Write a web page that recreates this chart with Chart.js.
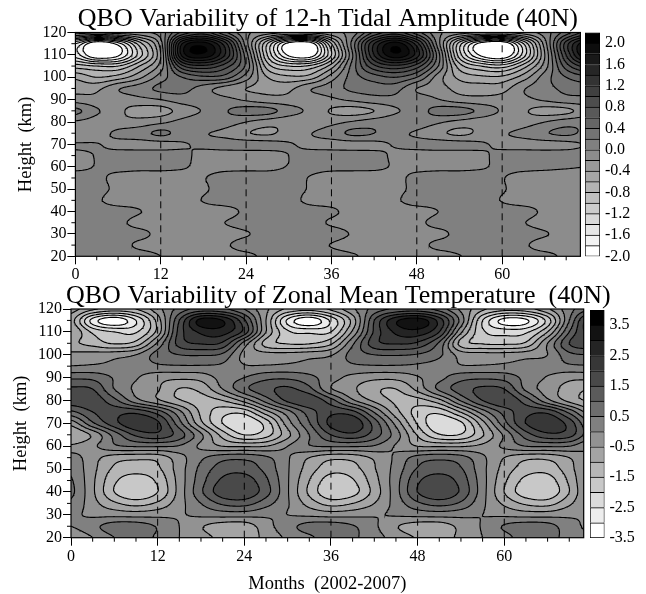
<!DOCTYPE html>
<html><head><meta charset="utf-8">
<style>html,body{margin:0;padding:0;background:#fff;width:646px;height:594px;overflow:hidden}canvas{position:absolute}</style>
<script src="https://cdn.jsdelivr.net/npm/chart.js@4"></script>
</head><body>
<canvas id="c1" width="646" height="290" style="left:0;top:0"></canvas>
<canvas id="c2" width="646" height="324" style="left:0;top:270px"></canvas>
<canvas id="b1" width="61" height="248" style="left:585px;top:20px"></canvas>
<canvas id="b2" width="56" height="252" style="left:590px;top:298px"></canvas>
<script>
const months=[0,3,6,9,12,15,18,21,24,27,30,33,36,39,42,45,48,51,54,57,60,63,66,69,72];
const heights=[120,115,110,105,100,95,90,85,80,75,70,65,60,55,50,45,40,35,30,25,20];
const monthTicks=[0,12,24,36,48,60];
const minorMonths=[3,6,9,15,18,21,27,30,33,39,42,45,51,54,57,63,66,69];
const heightTicks=[20,30,40,50,60,70,80,90,100,110,120];
const minorHeights=[25,35,45,55,65,75,85,95,105,115];
const dashMonths=[12,24,36,48,60];
const titleAmp="QBO Variability of 12-h Tidal Amplitude (40N)";
const titleTemp="QBO Variability of Zonal Mean Temperature  (40N)";
const ampBarTicks=[-2,-1.6,-1.2,-0.8,-0.4,0,0.4,0.8,1.2,1.6,2];
const tempBarTicks=[-3.5,-2.5,-1.5,-0.5,0.5,1.5,2.5,3.5];
// 12-h tidal amplitude, one row per height, one value per entry of months
const a120=[-.1,-.15,-.1,-.05,.1,.65,.9,.45,.05,-.1,-.2,-.15,-.05,.1,.65,.9,.5,.05,-.1,-.2,-.2,-.1,.1,.5,.9];
const a115=[-1.4,-2.05,-1.7,-.9,-.1,1.6,1.9,1.3,.1,-1,-1.9,-1.95,-.8,.3,1.4,1.9,1.3,.1,-1.1,-1.9,-2.05,-1.2,-.1,1.1,1.8];
const a110=[-1.5,-2.05,-1.85,-1.1,-.2,1.65,1.95,1.4,.3,-1,-1.85,-1.95,-1,.2,1.4,1.95,1.5,.3,-1.1,-1.85,-2.05,-1.3,-.2,1,1.85];
const a105=[-.9,-1,-1,-.6,-.1,.95,1.15,.9,.35,-.7,-1,-.95,-.5,.3,.95,1.15,.9,.2,-.7,-1,-1.1,-.7,-.1,.7,1.1];
const a100=[-.45,-.6,-.5,-.25,.1,.4,.55,.5,.1,-.4,-.55,-.5,-.1,.3,.5,.6,.4,-.1,-.45,-.55,-.55,-.3,.1,.4,.55];
const a95=[-.28,-.25,-.02,.1,.25,.28,.1,-.08,-.2,-.26,-.25,-.02,.1,.25,.3,.28,0,-.1,-.28,-.3,-.28,-.02,.12,.26,.3];
const a90=[-.1,-.15,-.13,-.06,0,.1,.12,.06,-.03,-.12,-.14,-.12,-.04,.04,.12,.14,.1,.01,-.1,-.14,-.12,-.05,.03,.12,.14];
const a85=[.25,.03,-.15,-.28,-.28,-.12,.02,.18,.28,.27,.1,-.05,-.22,-.28,-.2,-.03,.1,.27,.28,.15,-.03,-.17,-.28,-.25,-.1];
const a80=[-.03,-.1,-.14,-.12,-.04,.06,.14,.1,0,-.1,-.15,-.14,-.06,.02,.1,.15,.13,.03,-.06,-.13,-.15,-.1,0,.1,.14];
const a75=[-.2,-.1,.05,.12,.24,.12,.02,-.05,-.18,-.23,-.12,-.01,.1,.24,.2,.06,-.03,-.15,-.24,-.15,-.03,.06,.18,.24,.15];
const a70=[.02,.01,-.06,-.08,-.07,-.02,.04,.08,.09,.08,.02,-.05,-.08,-.08,-.06,.02,.07,.09,.08,.03,-.05,-.08,-.08,-.06,.01];
const a65=[-.05,.01,.08,.1,.1,.05,-.06,-.09,-.1,-.09,0,.07,.1,.1,.07,-.04,-.09,-.1,-.1,-.04,.06,.1,.1,.1,.08];
const a60=[-.04,.01,.05,.05,.05,.02,-.05,-.05,-.05,-.05,.01,.05,.05,.05,.04,-.02,-.05,-.05,-.05,-.02,.04,.05,.04,.02,0];
const a55=[.08,.04,-.05,-.09,-.09,-.08,-.01,.07,.09,.09,.07,-.01,-.08,-.09,-.09,-.05,.05,.09,.09,.08,.01,-.07,-.09,-.09,-.09];
const a50=[.09,.07,-.05,-.09,-.09,-.09,-.03,.09,.09,.09,.09,-.02,-.09,-.09,-.09,-.06,.06,.09,.09,.09,.02,-.09,-.09,-.09,-.09];
const a45=[.09,.03,-.09,-.09,-.09,-.09,.01,.09,.09,.09,.07,-.05,-.09,-.09,-.09,-.03,.09,.09,.09,.09,-.01,-.09,-.09,-.09,-.09];
const a40=[.09,.09,.09,.01,-.09,-.09,-.09,-.08,.04,.09,.09,.09,.04,-.08,-.09,-.09,-.09,0,.09,.09,.09,.08,-.04,-.09,-.09];
const a35=[.09,.09,.05,-.07,-.09,-.09,-.09,0,.09,.09,.09,.09,-.03,-.09,-.09,-.09,-.05,.07,.09,.09,.09,.01,-.09,-.09,-.09];
const a30=[.09,.09,.09,.06,-.06,-.09,-.09,-.09,-.02,.09,.09,.09,.09,-.02,-.09,-.09,-.09,-.06,.06,.09,.09,.09,.02,-.09,-.09];
const a25=[.09,.09,.08,-.04,-.09,-.09,-.09,-.03,.09,.09,.09,.09,-.01,-.09,-.09,-.09,-.07,.05,.09,.09,.09,.03,-.09,-.09,-.09];
const a20=[.09,.09,.09,.09,0,-.09,-.09,-.09,-.06,.06,.09,.09,.09,.03,-.09,-.09,-.09,-.09,-.01,.09,.09,.09,.07,-.05,-.09];
// zonal mean temperature
const t120=[-.3,-.9,-1.2,-1,-.2,.7,1.2,1.1,.5,-.4,-1.1,-1.3,-.9,-.1,.7,1.1,1.2,.8,-.1,-.9,-1.3,-1.2,-.6,.3,1];
const t115=[-.8,-2.7,-3.4,-2.5,-.8,1.5,3.2,3,1.6,-.5,-2.6,-3.4,-2.4,-.8,1.5,2.9,3.3,2.3,.3,-2,-3.2,-3.1,-1.8,.5,2.4];
const t110=[-.5,-1.6,-2,-2.05,-.8,1.7,2.6,2.7,1.8,-.5,-1.9,-2.1,-2,-.4,1.6,2.6,2.8,2,-.4,-1.9,-2.2,-2.1,-1,1,2.3];
const t105=[-.9,-1.2,-1.55,-1.3,.1,1.7,2.05,1.9,.3,-1.2,-1.55,-1.55,-1.1,.4,1.8,2.05,1.9,.9,-1.2,-1.55,-1.6,-1.4,0,1.5,1.95];
const t100=[-.35,-.3,-.2,0,.7,1,1.05,.9,-.15,-.3,-.3,-.2,-.05,.7,1,1.05,.95,.6,-.2,-.3,-.3,-.2,0,.85,1];
const t95=[.02,.07,.12,.2,.4,.45,.45,.4,.05,.05,.1,.15,.2,.4,.45,.45,.4,.3,.05,.05,.1,.15,.25,.4,.45];
const t90=[.9,.85,.45,.05,-.3,-.38,-.3,.2,.5,.85,.9,.65,.2,-.15,-.35,-.35,-.05,.35,.8,.9,.8,.35,-.05,-.35,-.35];
const t85=[1.6,1.5,.5,-.1,-.45,-1.02,-.85,0,.85,1.35,1.6,1.15,.05,-.4,-.9,-1,-.35,.6,1.25,1.6,1.5,.4,-.25,-.7,-1.05];
const t80=[1.8,1.8,1.15,.2,-.4,-.95,-1.2,-1,-.3,.7,1.6,1.9,1.2,.1,-.6,-1.1,-1.2,-.65,.55,1.5,1.9,1.25,.15,-.65,-1.1];
const t75=[.9,1.5,1.8,1.85,1.25,.15,-1.1,-1.8,-1.8,-.7,.3,1.25,1.85,1.65,.45,-.8,-1.7,-1.85,-.95,.25,1.2,1.8,1.85,.85,-.3];
const t70=[-.3,.9,1.8,2.4,2.1,.7,-.85,-2,-2.45,-1.8,-.25,.95,2.15,2.4,1.3,-.15,-1.55,-2.4,-2.1,-.7,.8,2,2.4,1.8,.45];
const t65=[-1,-.4,.7,1.6,1.85,1.25,.1,-1.2,-2,-1.7,-.65,.5,1.5,1.85,1.25,.25,-1.05,-1.95,-1.95,-1.05,.1,1.25,1.85,1.7,.65];
const t60=[-.4,-.1,.4,.55,.55,.45,-.1,-.5,-.55,-.5,0,.45,.55,.55,.45,-.05,-.5,-.55,-.55,-.35,.1,.5,.55,.5,0];
const t55=[.25,-.3,-.75,-.85,-.8,-.2,.4,.8,.85,.6,.05,-.5,-.85,-.8,-.4,.1,.7,.85,.7,.1,-.5,-.85,-.85,-.5,.1];
const t50=[.4,-.35,-1.1,-1.3,-1.1,-.25,.65,1.25,1.3,.85,.05,-.75,-1.3,-1.2,-.55,.2,1.05,1.3,1.05,.15,-.7,-1.25,-1.3,-.7,.15];
const t45=[.55,-.4,-1.4,-1.75,-1.4,-.3,.8,1.6,1.75,1.1,.05,-1,-1.75,-1.55,-.7,.3,1.4,1.75,1.3,.2,-.9,-1.65,-1.75,-.9,.2];
const t40=[.6,-.4,-1.5,-1.95,-1.5,-.3,.9,1.8,1.9,1.2,.05,-1.1,-1.9,-1.7,-.8,.3,1.5,1.95,1.4,.2,-1,-1.8,-1.9,-1,.2];
const t35=[.4,-.3,-.9,-1.2,-.9,-.2,.5,1.1,1.2,.7,.05,-.7,-1.2,-1,-.5,.2,.9,1.2,.9,.1,-.6,-1.1,-1.2,-.6,.1];
const t30=[.1,-.1,-.15,-.2,-.15,-.05,.1,.2,.2,.1,0,-.1,-.2,-.15,-.05,.05,.15,.2,.15,0,-.1,-.2,-.2,-.1,0];
const t25=[0,.35,.75,.78,.45,0,-.45,-.75,-.78,-.2,.3,.7,.78,.55,.1,-.45,-.75,-.78,-.35,.05,.55,.78,.7,.2,-.1];
const t20=[-.4,0,.5,.78,.4,0,-.3,-.65,-.78,-.35,.1,.4,.78,.6,.2,-.2,-.55,-.78,-.35,0,.3,.78,.7,.3,0];
const ampGrid=[a120,a115,a110,a105,a100,a95,a90,a85,a80,a75,a70,a65,a60,a55,a50,a45,a40,a35,a30,a25,a20];
const tempGrid=[t120,t115,t110,t105,t100,t95,t90,t85,t80,t75,t70,t65,t60,t55,t50,t45,t40,t35,t30,t25,t20];

function cr(p0,p1,p2,p3,t){return p1+0.5*t*(p2-p0+t*(2*p0-5*p1+4*p2-p3+t*(3*(p1-p2)+p3-p0)));}
function sampler(grid){
  const R=grid.length,C=grid[0].length,mStep=months[1]-months[0],hStep=heights[0]-heights[1],h0=heights[0];
  return function(m,km){
    const fx=m/mStep,fy=(h0-km)/hStep;
    const c=Math.min(C-2,Math.max(0,Math.floor(fx))),r=Math.min(R-2,Math.max(0,Math.floor(fy)));
    const tx=fx-c,ty=fy-r,col=[];
    for(let k=-1;k<=2;k++){
      const row=grid[Math.min(R-1,Math.max(0,r+k))];
      col.push(cr(row[Math.max(0,c-1)],row[c],row[Math.min(C-1,c+1)],row[Math.min(C-1,c+2)],tx));
    }
    return cr(col[0],col[1],col[2],col[3],ty);
  };
}
function fineField(fn){
  const dm=0.25,dk=0.5,nx=Math.round(71/dm),ny=Math.round(100/dk),cache=[];
  for(let i=0;i<=nx;i++){const col=new Float32Array(ny+1);for(let j=0;j<=ny;j++)col[j]=fn(i*dm,20+j*dk);cache.push(col);}
  return {cache,dm,dk,nx,ny};
}
function contourSegments(f,level){
  const {cache,dm,dk,nx,ny}=f,out=[];
  for(let i=0;i<nx;i++){for(let j=0;j<ny;j++){
    const x0=i*dm,y0=20+j*dk,x1=x0+dm,y1=y0+dk;
    const a=cache[i][j]-level,b=cache[i+1][j]-level,c=cache[i+1][j+1]-level,d=cache[i][j+1]-level;
    const pts=[];
    if((a<0)!==(b<0))pts.push({x:x0+dm*a/(a-b),y:y0});
    if((b<0)!==(c<0))pts.push({x:x1,y:y0+dk*b/(b-c)});
    if((d<0)!==(c<0))pts.push({x:x0+dm*d/(d-c),y:y1});
    if((a<0)!==(d<0))pts.push({x:x0,y:y0+dk*a/(a-d)});
    if(pts.length>=2){out.push(pts[0],pts[1],{x:NaN,y:NaN});}
    if(pts.length===4){out.push(pts[2],pts[3],{x:NaN,y:NaN});}
  }}
  return out;
}
function bandGrey(i,n){return Math.round(255*(1-i/(n-1)));}
const heatSetup={};
const heatPlugin={
  id:'heat',
  afterLayout(chart){
    const o=heatSetup[chart.canvas.id];
    if(chart.titleBlock){chart.titleBlock.left+=o.titleShift-30;chart.titleBlock.right+=o.titleShift+30;}
  },
  beforeDatasetsDraw(chart){
    const o=heatSetup[chart.canvas.id],a=chart.chartArea,xs=chart.scales.x,ys=chart.scales.y,ctx=chart.ctx;
    const L=Math.round(a.left),T=Math.round(a.top),W=Math.round(a.right)-L,H=Math.round(a.bottom)-T;
    const img=ctx.createImageData(W,H),n=Math.round((o.hi-o.lo)/o.step);
    for(let py=0;py<H;py++){
      const km=ys.getValueForPixel(T+py+.5);
      for(let px=0;px<W;px++){
        const v=o.fn(xs.getValueForPixel(L+px+.5),km);
        const b=Math.max(0,Math.min(n-1,Math.floor((v-o.lo)/o.step))),g=bandGrey(b,n),q=(py*W+px)*4;
        img.data[q]=img.data[q+1]=img.data[q+2]=g;img.data[q+3]=255;
      }
    }
    ctx.putImageData(img,L,T);
  },
  afterDraw(chart){
    const a=chart.chartArea,xs=chart.scales.x,ys=chart.scales.y,ctx=chart.ctx;
    ctx.save();ctx.strokeStyle='#000';ctx.lineWidth=1.2;
    ctx.strokeRect(a.left,a.top,a.right-a.left,a.bottom-a.top);
    ctx.beginPath();
    minorMonths.forEach(m=>{const x=xs.getPixelForValue(m);ctx.moveTo(x,a.bottom);ctx.lineTo(x,a.bottom+4);});
    minorHeights.forEach(k=>{const y=ys.getPixelForValue(k);ctx.moveTo(a.left,y);ctx.lineTo(a.left-4,y);});
    ctx.lineWidth=1;ctx.stroke();ctx.restore();
  }
};
const serif='"Liberation Serif","Times New Roman",serif';
function panel(id,grid,lo,hi,step,cfg){
  const fn=sampler(grid),field=fineField(fn);
  heatSetup[id]={fn,lo,hi,step,titleShift:cfg.titleShift};
  const datasets=[];
  const n=Math.round((hi-lo)/step);
  for(let i=1;i<n;i++){
    const level=lo+i*step;
    datasets.push({label:level.toFixed(1),data:contourSegments(field,level),showLine:true,pointRadius:0,borderColor:'#000',borderWidth:cfg.lineW,borderCapStyle:'round',spanGaps:false,tension:0});
  }
  dashMonths.forEach(m=>datasets.push({label:'m'+m,data:[{x:m,y:20},{x:m,y:120}],showLine:true,pointRadius:0,borderColor:'#000',borderWidth:1,borderDash:[7,5],tension:0}));
  new Chart(document.getElementById(id),{type:'scatter',data:{datasets},plugins:[heatPlugin],options:{
    responsive:false,animation:false,events:[],
    layout:{padding:{left:cfg.padL,right:646-cfg.right,top:cfg.padT,bottom:0}},
    plugins:{legend:{display:false},tooltip:{enabled:false},
      title:{display:true,text:cfg.title,color:'#000',fullSize:false,padding:0,font:{family:serif,size:cfg.titleSize,weight:'normal',lineHeight:1}}},
    scales:{
      x:{type:'linear',min:0,max:71,
        afterBuildTicks(s){s.ticks=monthTicks.map(v=>({value:v}));},
        afterFit(s){s.height=cfg.xH;},
        grid:{display:true,drawOnChartArea:false,drawTicks:true,tickLength:8,tickColor:'#000',tickWidth:1},border:{display:false},
        ticks:{color:'#000',padding:1,maxRotation:0,autoSkip:false,font:{family:serif,size:16}},
        title:{display:!!cfg.xTitle,text:cfg.xTitle||'',color:'#000',padding:{top:0,bottom:-1},font:{family:serif,size:18.5}}},
      y:{type:'linear',min:20,max:120,
        afterBuildTicks(s){s.ticks=heightTicks.map(v=>({value:v}));},
        afterFit(s){s.width=cfg.left-cfg.padL;},
        grid:{display:true,drawOnChartArea:false,drawTicks:true,tickLength:8,tickColor:'#000',tickWidth:1},border:{display:false},
        ticks:{color:'#000',padding:1,autoSkip:false,font:{family:serif,size:16}},
        title:{display:true,text:'Height  (km)',color:'#000',padding:0,font:{family:serif,size:18.5}}}
    }}});
}
function colorBar(id,lo,hi,step,barTicks,padT,padB,w){
  const n=Math.round((hi-lo)/step),datasets=[];
  for(let i=0;i<n;i++){
    const g=bandGrey(i,n);
    datasets.push({label:'b'+i,data:[[lo+i*step,lo+(i+1)*step]],backgroundColor:`rgb(${g},${g},${g})`,borderColor:'#000',borderSkipped:false,
      borderWidth:{left:1,right:1,top:1,bottom:i===0?1:0},grouped:false,barPercentage:1,categoryPercentage:1});
  }
  new Chart(document.getElementById(id),{type:'bar',data:{labels:[''],datasets},options:{
    responsive:false,animation:false,events:[],
    layout:{padding:{top:padT,bottom:padB,left:0,right:0}},
    plugins:{legend:{display:false},tooltip:{enabled:false}},
    scales:{
      x:{display:false},
      y:{position:'right',min:lo,max:hi,
        afterBuildTicks(s){s.ticks=barTicks.map(v=>({value:v}));},
        afterFit(s){s.width=w;s.paddingTop=0;s.paddingBottom=0;},
        grid:{display:false,drawTicks:false},border:{display:false},
        ticks:{color:'#000',padding:5,autoSkip:false,callback:v=>Number(v).toFixed(1),font:{family:serif,size:16}}}
    }}});
}
panel('c1',ampGrid,-2,2.2,0.2,{title:titleAmp,titleSize:26,titleShift:0,left:75.4,right:580.4,padL:15,padT:6.5,xH:33.7,lineW:1.1});
panel('c2',tempGrid,-3.5,4,0.5,{title:titleTemp,titleSize:26,titleShift:11,left:71,right:583.7,padL:10,padT:13,xH:56.3,lineW:1.1,xTitle:'Months  (2002-2007)'});
colorBar('b1',-2,2.2,0.2,ampBarTicks,12.5,11.7,46);
colorBar('b2',-3.5,4,0.5,tempBarTicks,12,12,41.5);
</script>
</body></html>
